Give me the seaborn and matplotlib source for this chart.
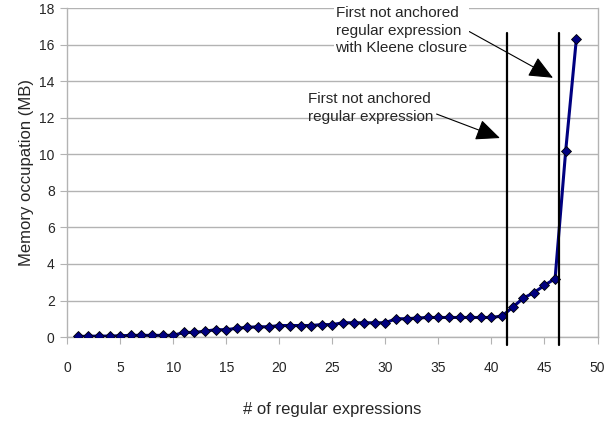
import numpy as np
import pandas as pd
import seaborn as sns
import matplotlib.pyplot as plt

n_regex = list(range(1, 49))
memory_mb = [0.03, 0.04, 0.05, 0.05, 0.07, 0.09, 0.09, 0.09, 0.09, 0.09,
             0.25, 0.25, 0.32, 0.40, 0.40, 0.48, 0.53, 0.56, 0.56, 0.63,
             0.63, 0.63, 0.63, 0.68, 0.68, 0.78, 0.78, 0.78, 0.78, 0.78,
             1.00, 1.00, 1.04, 1.07, 1.07, 1.07, 1.07, 1.07, 1.07, 1.07,
             1.15, 1.63, 2.13, 2.43, 2.83, 3.20, 10.2, 16.3]

marker_x = [41.45, 46.4]
marker_top = 16.65
marker_bottom = -0.45

note_texts = ["First not anchored\nregular expression\nwith Kleene closure",
              "First not anchored\nregular expression"]

df = pd.DataFrame({"n": n_regex, "mem": memory_mb})

sns.set_style("white")
plt.rcParams['font.family'] = ['Liberation Sans', 'DejaVu Sans']

fig = plt.figure(figsize=(6.16, 4.22), dpi=100)
ax = fig.add_axes([0.109, 0.2014, 0.861, 0.7786])

sns.lineplot(data=df, x="n", y="mem", ax=ax, color="#000080", linewidth=2.2,
             marker="D", markersize=5.5, markerfacecolor="#000080",
             markeredgecolor="black", markeredgewidth=0.6, zorder=4)

for xv in marker_x:
    ax.plot([xv, xv], [marker_bottom, marker_top], color="black", lw=1.6,
            clip_on=False, zorder=5)

ax.set_xlim(0, 50)
ax.set_ylim(0, 18)
ax.set_xticks(np.arange(0, 51, 5))
ax.set_yticks(np.arange(0, 19, 2))
ax.yaxis.grid(True, color="#b3b3b3", lw=1)
ax.set_axisbelow(True)
for s in ax.spines.values():
    s.set_color("#b3b3b3")
    s.set_linewidth(1)
ax.spines["top"].set_visible(False)
ax.tick_params(axis="both", which="both", direction="out", length=5,
               color="#b3b3b3", labelsize=10, bottom=True, left=True)
ax.tick_params(axis="x", pad=12)
ax.tick_params(axis="y", pad=4)

ax.set_xlabel("# of regular expressions", fontsize=12, labelpad=20)
ax.set_ylabel("Memory occupation (MB)", fontsize=12, labelpad=4)

arrow_style = dict(arrowstyle="-|>,head_length=0.75,head_width=0.33",
                   color="black", lw=0.8, mutation_scale=20,
                   shrinkA=0, shrinkB=0)

ax.annotate(note_texts[0], xy=(45.8, 14.2), xytext=(25.3, 16.78),
            fontsize=11, va="center", ha="left", linespacing=1.3,
            bbox=dict(boxstyle="square,pad=0.1", fc="white", ec="none"),
            arrowprops=dict(relpos=(0.96, 0.56), **arrow_style),
            zorder=6)
ax.annotate(note_texts[1], xy=(40.8, 10.9), xytext=(22.7, 12.54),
            fontsize=11, va="center", ha="left", linespacing=1.3,
            arrowprops=dict(relpos=(1.0, 0.35), **arrow_style),
            zorder=6)

fig.savefig("out.png", dpi=100)
